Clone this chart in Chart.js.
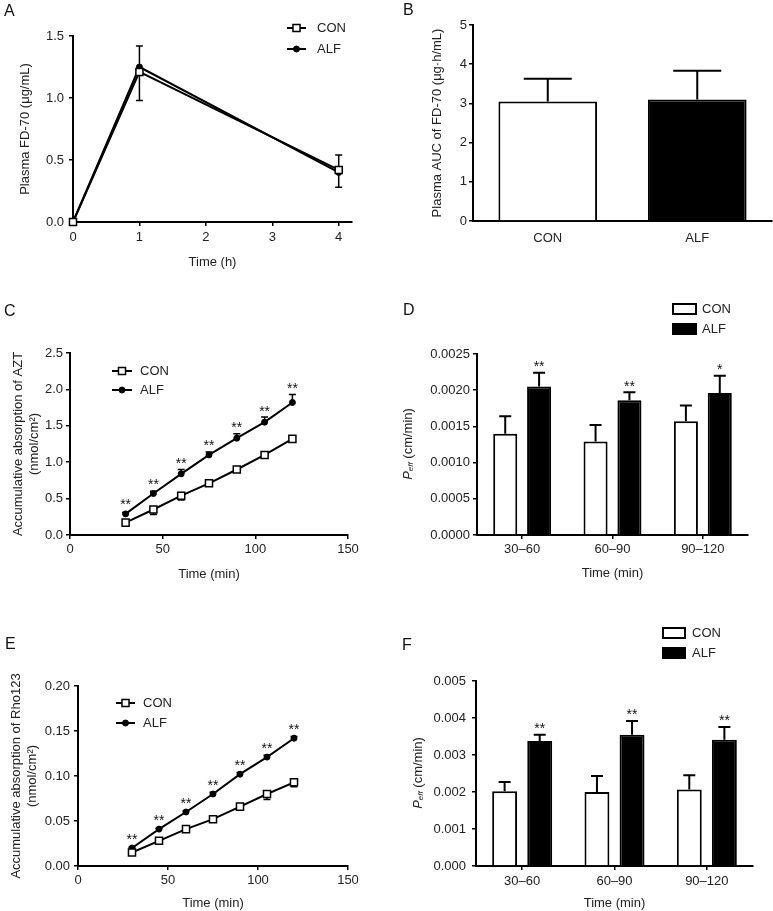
<!DOCTYPE html>
<html>
<head>
<meta charset="utf-8">
<script src="https://cdn.jsdelivr.net/npm/chart.js@4.4.1/dist/chart.umd.min.js"></script>
<style>
body { margin: 0; background: #fff; }
#wrap { position: relative; width: 773px; height: 911px; background: #fff; }
canvas { position: absolute; }
</style>
</head>
<body>
<div id="wrap">
<canvas id="chartA" width="390" height="290" style="left:0;top:0"></canvas>
<canvas id="chartB" width="383" height="290" style="left:390px;top:0"></canvas>
<canvas id="chartC" width="390" height="300" style="left:0;top:300px"></canvas>
<canvas id="chartD" width="383" height="300" style="left:390px;top:300px"></canvas>
<canvas id="chartE" width="390" height="311" style="left:0;top:600px"></canvas>
<canvas id="chartF" width="383" height="311" style="left:390px;top:600px"></canvas>
</div>
<script>
// ---- data ----

// A: plasma FD-70 over time
var timeA = [0, 1, 4];
var conA = [0, 1.21, 0.42];
var conAErr = [0, 0.23, 0.14];
var alfA = [0, 1.25, 0.40];
var alfAErr = [0, 0.17, 0.14];
var xTicksA = [0, 1, 2, 3, 4];
var yTicksA = [0, 0.5, 1.0, 1.5];

// B: plasma AUC
var groupsB = ['CON', 'ALF'];
var aucB = [3.05, 3.10];
var aucBErr = [0.58, 0.73];
var yTicksB = [0, 1, 2, 3, 4, 5];

// C: accumulative absorption of AZT
var timeC = [30, 45, 60, 75, 90, 105, 120];
var conC = [0.17, 0.35, 0.54, 0.71, 0.90, 1.10, 1.32];
var conCErr = [0.02, 0.07, 0.06, 0.03, 0.03, 0.03, 0.03];
var alfC = [0.29, 0.57, 0.84, 1.10, 1.33, 1.55, 1.82];
var alfCErr = [0.02, 0.03, 0.06, 0.04, 0.06, 0.07, 0.11];
var starsC = ['**', '**', '**', '**', '**', '**', '**'];
var xTicksC = [0, 50, 100, 150];
var yTicksC = [0, 0.5, 1.0, 1.5, 2.0, 2.5];

// D: Peff of AZT
var periodsD = ['30–60', '60–90', '90–120'];
var conD = [0.00140, 0.00129, 0.00157];
var conDErr = [0.00024, 0.00023, 0.00022];
var alfD = [0.00205, 0.00186, 0.00196];
var alfDErr = [0.00019, 0.00011, 0.00024];
var starsD = ['**', '**', '*'];
var yTicksD = [0, 0.0005, 0.0010, 0.0015, 0.0020, 0.0025];

// E: accumulative absorption of Rho123
var timeE = [30, 45, 60, 75, 90, 105, 120];
var conE = [0.015, 0.028, 0.041, 0.052, 0.066, 0.080, 0.093];
var conEErr = [0.001, 0.001, 0.002, 0.003, 0.003, 0.006, 0.005];
var alfE = [0.020, 0.041, 0.060, 0.080, 0.102, 0.121, 0.142];
var alfEErr = [0.001, 0.001, 0.001, 0.002, 0.002, 0.002, 0.002];
var starsE = ['**', '**', '**', '**', '**', '**', '**'];
var xTicksE = [0, 50, 100, 150];
var yTicksE = [0, 0.05, 0.10, 0.15, 0.20];

// F: Peff of Rho123
var periodsF = ['30–60', '60–90', '90–120'];
var conF = [0.00202, 0.00200, 0.00207];
var conFErr = [0.00025, 0.00043, 0.00038];
var alfF = [0.00338, 0.00355, 0.00341];
var alfFErr = [0.00017, 0.00037, 0.00035];
var starsF = ['**', '**', '**'];
var yTicksF = [0, 0.001, 0.002, 0.003, 0.004, 0.005];


var FONT = "'Liberation Sans', Arial, Helvetica, sans-serif";
Chart.defaults.font.family = FONT;
Chart.defaults.font.size = 13;
Chart.defaults.color = '#222';

function valueOf(d) {
	return (d !== null && typeof d === 'object') ? d.y : d;
}

// error bars, stars, panel letter, legend and the P_eff title
var extras = {
	id: 'extras',
	beforeDatasetsDraw: function(chart, args, o) {
		var ctx = chart.ctx;
		var ys = chart.scales.y;
		ctx.save();
		ctx.strokeStyle = '#000';
		ctx.lineWidth = o.errWidth;
		chart.data.datasets.forEach(function(ds, i) {
			if (!ds.errors) return;
			chart.getDatasetMeta(i).data.forEach(function(el, j) {
				var e = ds.errors[j];
				if (!e) return;
				var v = valueOf(ds.data[j]);
				var y0 = ys.getPixelForValue(v);
				var y1 = ys.getPixelForValue(v + ds.errDir * e);
				ctx.beginPath();
				ctx.moveTo(el.x, y0);
				ctx.lineTo(el.x, y1);
				ctx.moveTo(el.x - o.cap, y1);
				ctx.lineTo(el.x + o.cap, y1);
				ctx.stroke();
			});
		});
		ctx.restore();
	},
	afterDraw: function(chart, args, o) {
		var ctx = chart.ctx;
		ctx.save();

		// panel letter
		ctx.fillStyle = '#111';
		ctx.font = '16px ' + FONT;
		ctx.textAlign = 'left';
		ctx.textBaseline = 'alphabetic';
		ctx.fillText(o.letter, o.letterX, o.letterY);

		// significance stars above ALF
		if (o.stars) {
			var ds = chart.data.datasets[1];
			var ys = chart.scales.y;
			ctx.font = '14px ' + FONT;
			ctx.textAlign = 'center';
			chart.getDatasetMeta(1).data.forEach(function(el, j) {
				if (!o.stars[j]) return;
				var v = valueOf(ds.data[j]);
				var top = Math.min(ys.getPixelForValue(v + ds.errors[j]), el.y - o.starGap);
				ctx.fillText(o.stars[j], el.x, top - 1.5);
			});
		}

		// legend
		if (o.legend) {
			var L = o.legend;
			chart.data.datasets.forEach(function(ds, i) {
				var y = L.y[i];
				if (L.kind === 'line') {
					ctx.strokeStyle = '#000';
					ctx.lineWidth = 2;
					ctx.beginPath();
					ctx.moveTo(L.x1, y);
					ctx.lineTo(L.x2, y);
					ctx.stroke();
					var cx = (L.x1 + L.x2) / 2;
					ctx.fillStyle = ds.pointBackgroundColor;
					ctx.lineWidth = ds.pointBorderWidth;
					ctx.beginPath();
					if (ds.pointStyle === 'rect') {
						var s = Math.SQRT1_2 * ds.pointRadius;
						ctx.rect(cx - s, y - s, 2 * s, 2 * s);
					} else {
						ctx.arc(cx, y, ds.pointRadius, 0, Math.PI * 2);
					}
					ctx.fill();
					ctx.stroke();
				} else {
					ctx.fillStyle = ds.backgroundColor;
					ctx.fillRect(L.x1, y - L.h / 2, L.w, L.h);
					ctx.strokeStyle = '#000';
					ctx.lineWidth = 2;
					ctx.strokeRect(L.x1, y - L.h / 2, L.w, L.h);
				}
				ctx.fillStyle = '#222';
				ctx.font = '13px ' + FONT;
				ctx.textAlign = 'left';
				ctx.textBaseline = 'middle';
				ctx.fillText(ds.label, L.tx, y);
			});
		}

		// y title with subscript: P_eff (cm/min)
		if (o.peff) {
			var parts = [
				{t: 'P', f: 'italic 13px ' + FONT, dy: 0},
				{t: 'eff', f: 'italic 8px ' + FONT, dy: 3},
				{t: ' (cm/min)', f: '13px ' + FONT, dy: 0}
			];
			var total = 0;
			parts.forEach(function(p) { ctx.font = p.f; p.w = ctx.measureText(p.t).width; total += p.w; });
			ctx.translate(o.peff.x, o.peff.y);
			ctx.rotate(-Math.PI / 2);
			ctx.fillStyle = '#222';
			ctx.textAlign = 'left';
			ctx.textBaseline = 'middle';
			var px = -total / 2;
			parts.forEach(function(p) {
				ctx.font = p.f;
				ctx.fillText(p.t, px, p.dy);
				px += p.w;
			});
		}
		ctx.restore();
	}
};

function categoryLabel(v) {
	return this.getLabelForValue(v);
}

function axis(o) {
	return {
		type: o.type || 'linear',
		min: o.min,
		max: o.max,
		offset: o.type === 'category',
		border: {display: true, color: '#000', width: 2},
		grid: {drawOnChartArea: false, drawTicks: !o.noTicks, tickLength: 4, color: '#000', lineWidth: 1.5, offset: false},
		ticks: {padding: o.pad, autoSkip: false, maxRotation: 0, minRotation: 0, color: '#222', font: {size: 13},
			callback: o.fmt || categoryLabel},
		title: o.title ? {display: true, text: o.title, color: '#222', font: {size: 13}, padding: o.titlePad} : {display: false},
		afterBuildTicks: o.ticks ? function(s) { s.ticks = o.ticks.map(function(v) { return {value: v}; }); } : undefined,
		afterFit: function(s) {
			if (o.w) s.width = o.w;
			if (o.h) s.height = o.h;
		}
	};
}

function lineSet(label, xs, ys, errs, dir, square) {
	return {
		label: label,
		data: xs.map(function(x, i) { return {x: x, y: ys[i]}; }),
		errors: errs,
		errDir: dir,
		borderColor: '#000',
		borderWidth: 2,
		pointStyle: square ? 'rect' : 'circle',
		pointRadius: square ? 5 : 3,
		pointBackgroundColor: square ? '#fff' : '#000',
		pointBorderColor: '#000',
		pointBorderWidth: square ? 1.5 : 1,
		tension: 0,
		clip: false
	};
}

function barSet(label, vals, errs, fill, bp, cp) {
	return {
		label: label,
		data: vals,
		errors: errs,
		errDir: 1,
		backgroundColor: fill,
		borderColor: '#000',
		borderWidth: 2,
		borderSkipped: 'start',
		barPercentage: bp,
		categoryPercentage: cp
	};
}

function baseOptions(pad, scales, ex) {
	return {
		responsive: false,
		animation: false,
		devicePixelRatio: 1,
		layout: {padding: pad},
		scales: scales,
		plugins: {legend: {display: false}, tooltip: {enabled: false}, extras: ex}
	};
}

function fmt(d) {
	return function(v) { return Number(v).toFixed(d); };
}


// A
new Chart(document.getElementById('chartA'), {
	type: 'line',
	data: {datasets: [
		lineSet('CON', timeA, conA, conAErr, -1, true),
		lineSet('ALF', timeA, alfA, alfAErr, 1, false)
	]},
	options: baseOptions({left: 0, top: 36, right: 38, bottom: 0}, {
		x: axis({min: 0, max: 4.2, ticks: xTicksA, fmt: fmt(0), pad: 4, h: 68, title: 'Time (h)', titlePad: {top: 0, bottom: 20}}),
		y: axis({min: 0, max: 1.5, ticks: yTicksA, fmt: fmt(1), pad: 5, w: 73, title: 'Plasma FD-70 (μg/mL)', titlePad: {top: 18, bottom: 0}})
	}, {letter: 'A', letterX: 4, letterY: 16, cap: 3.5, errWidth: 1.5,
		legend: {kind: 'line', x1: 287, x2: 306, tx: 317, y: [28, 49]}}),
	plugins: [extras]
});

// B
new Chart(document.getElementById('chartB'), {
	type: 'bar',
	data: {labels: groupsB, datasets: [
		barSet('AUC', aucB, aucBErr, ['#fff', '#000'], 0.66, 1)
	]},
	options: baseOptions({left: 0, top: 25, right: 1, bottom: 0}, {
		x: axis({type: 'category', noTicks: true, pad: 10, h: 69}),
		y: axis({min: 0, max: 5, ticks: yTicksB, fmt: fmt(0), pad: 2, w: 83, title: 'Plasma AUC of FD-70 (μg·h/mL)', titlePad: {top: 40, bottom: 0}})
	}, {letter: 'B', letterX: 13, letterY: 15, cap: 24, errWidth: 2}),
	plugins: [extras]
});

// C
new Chart(document.getElementById('chartC'), {
	type: 'line',
	data: {datasets: [
		lineSet('CON', timeC, conC, conCErr, -1, true),
		lineSet('ALF', timeC, alfC, alfCErr, 1, false)
	]},
	options: baseOptions({left: 0, top: 53, right: 42, bottom: 0}, {
		x: axis({min: 0, max: 150, ticks: xTicksC, fmt: fmt(0), pad: 3, h: 65, title: 'Time (min)', titlePad: {top: 0, bottom: 18}}),
		y: axis({min: 0, max: 2.5, ticks: yTicksC, fmt: fmt(1), pad: 3, w: 70, title: ['Accumulative absorption of AZT', '(nmol/cm²)'], titlePad: {top: 11, bottom: 0}})
	}, {letter: 'C', letterX: 4, letterY: 16, cap: 3.5, errWidth: 1.5, stars: starsC, starGap: 3,
		legend: {kind: 'line', x1: 112, x2: 132, tx: 140, y: [71, 90]}}),
	plugins: [extras]
});

// D
new Chart(document.getElementById('chartD'), {
	type: 'bar',
	data: {labels: periodsD, datasets: [
		barSet('CON', conD, conDErr, '#fff', 0.71, 0.75),
		barSet('ALF', alfD, alfDErr, '#000', 0.71, 0.75)
	]},
	options: baseOptions({left: 0, top: 54, right: 25, bottom: 0}, {
		x: axis({type: 'category', pad: 3, h: 65, title: 'Time (min)', titlePad: {top: 0, bottom: 19}}),
		y: axis({min: 0, max: 0.0025, ticks: yTicksD, fmt: fmt(4), pad: 3, w: 87})
	}, {letter: 'D', letterX: 13, letterY: 15, cap: 6, errWidth: 2, stars: starsD, starGap: 0,
		legend: {kind: 'box', x1: 283, w: 23, h: 10, tx: 312, y: [9, 29]},
		peff: {x: 18, y: 144}}),
	plugins: [extras]
});

// E
new Chart(document.getElementById('chartE'), {
	type: 'line',
	data: {datasets: [
		lineSet('CON', timeE, conE, conEErr, -1, true),
		lineSet('ALF', timeE, alfE, alfEErr, 1, false)
	]},
	options: baseOptions({left: 0, top: 86, right: 42, bottom: 0}, {
		x: axis({min: 0, max: 150, ticks: xTicksE, fmt: fmt(0), pad: 3, h: 45, title: 'Time (min)', titlePad: {top: 0, bottom: 0}}),
		y: axis({min: 0, max: 0.2, ticks: yTicksE, fmt: fmt(2), pad: 4, w: 78, title: ['Accumulative absorption of Rho123', '(nmol/cm²)'], titlePad: {top: 9, bottom: 0}})
	}, {letter: 'E', letterX: 5, letterY: 49, cap: 3.5, errWidth: 1.5, stars: starsE, starGap: 3,
		legend: {kind: 'line', x1: 116, x2: 135, tx: 143, y: [103, 123]}}),
	plugins: [extras]
});

// F
new Chart(document.getElementById('chartF'), {
	type: 'bar',
	data: {labels: periodsF, datasets: [
		barSet('CON', conF, conFErr, '#fff', 0.71, 0.76),
		barSet('ALF', alfF, alfFErr, '#000', 0.71, 0.76)
	]},
	options: baseOptions({left: 0, top: 81, right: 20, bottom: 0}, {
		x: axis({type: 'category', pad: 4, h: 45, title: 'Time (min)', titlePad: {top: 0, bottom: 0}}),
		y: axis({min: 0, max: 0.005, ticks: yTicksF, fmt: fmt(3), pad: 6, w: 86})
	}, {letter: 'F', letterX: 12, letterY: 50, cap: 6, errWidth: 2, stars: starsF, starGap: 0,
		legend: {kind: 'box', x1: 273, w: 22, h: 10, tx: 302, y: [33, 53]},
		peff: {x: 28, y: 173}}),
	plugins: [extras]
});
</script>
</body>
</html>
